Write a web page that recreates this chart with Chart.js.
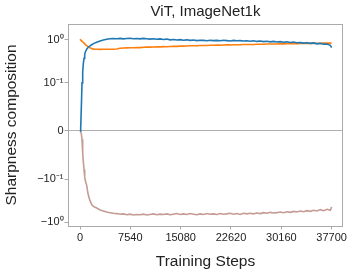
<!DOCTYPE html>
<html>
<head>
<meta charset="utf-8">
<script src="https://cdn.jsdelivr.net/npm/chart.js@4.4.1/dist/chart.umd.min.js"></script>
<style>
  body { margin: 0; background: #fff; }
</style>
</head>
<body>
<canvas id="myChart" width="353" height="274"></canvas>
<script>
// training steps (dense at the start where curves move fast)
const steps = [0, 100, 200, 300, 400, 500, 600, 700, 800, 1000, 1200, 1500, 1800, 2100, 2500, 3000, 3500, 4000, 4500, 5000,
    5500, 6000, 6500, 7000, 7500, 8000, 8500, 9000, 9500, 10000,
    10500, 11000, 11500, 12000, 12500, 13000, 13500, 14000, 14500, 15000,
    15500, 16000, 16500, 17000, 17500, 18000, 18500, 19000, 19500, 20000,
    20500, 21000, 21500, 22000, 22500, 23000, 23500, 24000, 24500, 25000,
    25500, 26000, 26500, 27000, 27500, 28000, 28500, 29000, 29500, 30000,
    30500, 31000, 31500, 32000, 32500, 33000, 33500, 34000, 34500, 35000,
    35500, 36000, 36500, 37000, 37500, 37700];

const blueVals = [0, 0.005, 0.05, 0.1, 0.18, 0.28, 0.37, 0.45, 0.52, 0.6, 0.66, 0.72, 0.77, 0.82, 0.87, 0.93, 0.98, 1.02, 1.05, 1.06,
    1.05, 1.07, 1.04, 1.06, 1.08, 1.05, 1.06, 1.04, 1.07, 1.05,
    1.03, 1.05, 1.02, 1.04, 1.01, 1.03, 0.99, 1.01, 0.98, 1.0,
    0.97, 0.99, 0.96, 0.98, 0.95, 0.97, 0.96, 0.94, 0.97, 0.95,
    0.96, 0.94, 0.97, 0.95, 0.93, 0.96, 0.94, 0.95, 0.93, 0.94,
    0.92, 0.94, 0.91, 0.93, 0.9, 0.92, 0.89, 0.91, 0.88, 0.9,
    0.87, 0.89, 0.86, 0.88, 0.85, 0.86, 0.83, 0.85, 0.82, 0.84,
    0.8, 0.82, 0.78, 0.79, 0.74, 0.65];

const orangeVals = [1.02, 0.98, 0.95, 0.92, 0.89, 0.86, 0.83, 0.8, 0.77, 0.73, 0.69, 0.65, 0.62, 0.6, 0.6, 0.595, 0.6, 0.6, 0.6, 0.6,
    0.61, 0.63, 0.64, 0.645, 0.65, 0.65, 0.66, 0.655, 0.665, 0.67,
    0.67, 0.675, 0.68, 0.68, 0.69, 0.685, 0.695, 0.7, 0.7, 0.71,
    0.71, 0.715, 0.72, 0.72, 0.725, 0.73, 0.73, 0.735, 0.74, 0.74,
    0.745, 0.745, 0.75, 0.755, 0.755, 0.76, 0.765, 0.765, 0.77, 0.77,
    0.775, 0.775, 0.78, 0.78, 0.785, 0.79, 0.79, 0.795, 0.795, 0.8,
    0.8, 0.805, 0.805, 0.81, 0.81, 0.815, 0.815, 0.82, 0.82, 0.82,
    0.825, 0.825, 0.83, 0.83, 0.83, 0.835];

const pinkVals = [0, -0.002, -0.006, -0.018, -0.045, -0.065, -0.08, -0.095, -0.11, -0.14, -0.22, -0.32, -0.4, -0.44, -0.47, -0.52, -0.55, -0.58, -0.6, -0.62,
    -0.63, -0.65, -0.64, -0.67, -0.65, -0.68, -0.66, -0.67, -0.65, -0.68,
    -0.66, -0.64, -0.67, -0.65, -0.66, -0.64, -0.67, -0.65, -0.63, -0.66,
    -0.64, -0.66, -0.63, -0.65, -0.67, -0.64, -0.66, -0.63, -0.65, -0.64,
    -0.66, -0.63, -0.65, -0.64, -0.62, -0.65, -0.63, -0.66, -0.62, -0.64,
    -0.62, -0.64, -0.61, -0.63, -0.6, -0.62, -0.59, -0.61, -0.6, -0.58,
    -0.6, -0.57, -0.59, -0.56, -0.58, -0.55, -0.57, -0.54, -0.56, -0.53,
    -0.55, -0.51, -0.54, -0.5, -0.53, -0.44];

const xTicks = [0, 7540, 15080, 22620, 30160, 37700];
const yTicks = [-1, -0.1, 0, 0.1, 1];
const yTickLabels = ['\u221210\u2070', '\u221210\u207B\u00B9', '0', '10\u207B\u00B9', '10\u2070'];

const FONT = "'Liberation Sans', Arial, sans-serif";
const LINTHRESH = 0.1;
const LINSCALE = 1 / (1 - 1 / 10);

// symlog transform, like matplotlib (linthresh 0.1, base 10)
function symT(v) {
    const a = Math.abs(v);
    if (a <= LINTHRESH) return v * LINSCALE;
    return Math.sign(v) * LINTHRESH * (LINSCALE + Math.log10(a / LINTHRESH));
}
function symInv(t) {
    const a = Math.abs(t);
    if (a <= LINTHRESH * LINSCALE) return t / LINSCALE;
    return Math.sign(t) * LINTHRESH * Math.pow(10, a / LINTHRESH - LINSCALE);
}

class SymlogScale extends Chart.Scale {
    determineDataLimits() {
        this.min = this.options.min;
        this.max = this.options.max;
    }
    buildTicks() {
        return yTicks.map(v => ({ value: v }));
    }
    getLabelForValue(v) {
        return String(v);
    }
    configure() {
        super.configure();
        this._t0 = symT(this.min);
        this._t1 = symT(this.max);
    }
    getPixelForValue(v) {
        return this.getPixelForDecimal((symT(v) - this._t0) / (this._t1 - this._t0));
    }
    getValueForPixel(p) {
        return symInv(this._t0 + this.getDecimalForPixel(p) * (this._t1 - this._t0));
    }
}
SymlogScale.id = 'symlog';
SymlogScale.defaults = {};
Chart.register(SymlogScale);

// box around the plot area, like matplotlib spines
const framePlugin = {
    id: 'frame',
    afterDatasetsDraw(chart) {
        const { ctx, chartArea: a } = chart;
        ctx.save();
        ctx.strokeStyle = '#aaaaaa';
        ctx.lineWidth = 1;
        ctx.strokeRect(Math.round(a.left) + 0.5, Math.round(a.top) + 0.5,
            Math.round(a.right - a.left) - 1, Math.round(a.bottom - a.top));
        ctx.restore();
    }
};

const toPoints = vals => steps.map((s, i) => ({ x: s, y: vals[i] }));

const ctx = document.getElementById('myChart');

new Chart(ctx, {
    type: 'line',
    data: {
        datasets: [{
            label: 'blue',
            data: toPoints(blueVals),
            borderColor: '#1f77b4',
            borderWidth: 1.6,
            order: 0
        },
        {
            label: 'orange',
            data: toPoints(orangeVals),
            borderColor: '#ff7f0e',
            borderWidth: 1.6,
            order: 1
        },
        {
            label: 'pink',
            data: toPoints(pinkVals),
            borderColor: '#c49c94',
            borderWidth: 1.6,
            order: 2
        }]
    },
    options: {
        responsive: false,
        animation: false,
        events: [],
        elements: {
            point: { radius: 0 },
            line: { tension: 0 }
        },
        layout: {
            padding: { left: 0, right: 10, top: 0, bottom: 0 }
        },
        scales: {
            x: {
                type: 'linear',
                min: -1800,
                max: 39400,
                afterBuildTicks: s => { s.ticks = xTicks.map(v => ({ value: v })); },
                afterFit: s => { s.height = 48; s.paddingLeft = 0; s.paddingRight = 0; },
                ticks: {
                    autoSkip: false,
                    maxRotation: 0,
                    padding: 2,
                    color: '#222',
                    font: { family: FONT, size: 11 },
                    callback: v => String(v)
                },
                grid: {
                    drawOnChartArea: false,
                    tickLength: 3.5,
                    tickColor: '#aaaaaa'
                },
                border: { display: false },
                title: {
                    display: true,
                    text: 'Training Steps',
                    color: '#222',
                    font: { family: FONT, size: 15.5 },
                    padding: { top: 0, bottom: 3 }
                }
            },
            y: {
                type: 'symlog',
                position: 'left',
                min: -1.22,
                max: 2.3,
                afterFit: s => { s.width = 68; s.paddingTop = 0; s.paddingBottom = 0; },
                ticks: {
                    autoSkip: false,
                    padding: 1,
                    color: '#222',
                    font: { family: FONT, size: 11 },
                    callback: (v, i) => yTickLabels[i]
                },
                grid: {
                    color: c => (c.tick && c.tick.value === 0) ? '#b0b0b0' : 'rgba(0,0,0,0)',
                    tickColor: '#aaaaaa',
                    tickLength: 3.5
                },
                border: { display: false },
                title: {
                    display: true,
                    text: 'Sharpness composition',
                    color: '#222',
                    font: { family: FONT, size: 15.5 },
                    padding: { top: 2.5, bottom: 0 }
                }
            }
        },
        plugins: {
            legend: { display: false },
            tooltip: { enabled: false },
            title: {
                display: true,
                text: 'ViT, ImageNet1k',
                fullSize: false,
                color: '#222',
                font: { family: FONT, size: 15, weight: 'normal' },
                padding: { top: 3, bottom: 3 }
            }
        }
    },
    plugins: [framePlugin]
});
</script>
</body>
</html>
